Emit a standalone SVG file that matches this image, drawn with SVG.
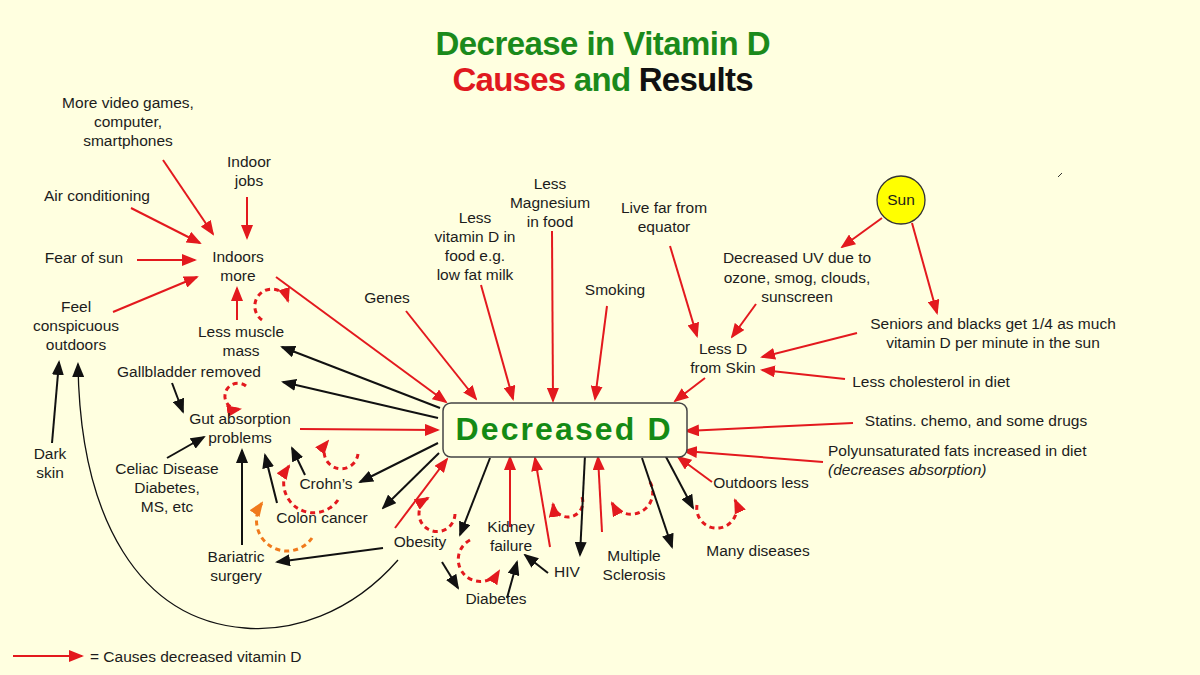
<svg xmlns="http://www.w3.org/2000/svg" width="1200" height="675" viewBox="0 0 1200 675">
<style>
text{font-family:"Liberation Sans",Arial,sans-serif;font-size:15.5px;fill:#1c1c1c}
.c{text-anchor:middle}
.r{fill:none;stroke:#e3191e;stroke-width:2}
.k{fill:none;stroke:#111;stroke-width:2}
.rd{fill:none;stroke:#e3191e;stroke-width:3;stroke-dasharray:5 4}
.od{fill:none;stroke:#f07a1c;stroke-width:3;stroke-dasharray:5 4}
.ttl{font-size:33px;font-weight:bold}
</style>
<defs>
<marker id="ar" viewBox="0 0 15 12" refX="13" refY="6" markerWidth="15" markerHeight="12" markerUnits="userSpaceOnUse" orient="auto"><path d="M0,0 L15,6 L0,12 z" fill="#e3191e"/></marker>
<marker id="ak" viewBox="0 0 15 12" refX="13" refY="6" markerWidth="15" markerHeight="12" markerUnits="userSpaceOnUse" orient="auto"><path d="M0,0 L15,6 L0,12 z" fill="#111"/></marker>
<marker id="ao" viewBox="0 0 15 12" refX="13" refY="6" markerWidth="15" markerHeight="12" markerUnits="userSpaceOnUse" orient="auto"><path d="M0,0 L15,6 L0,12 z" fill="#f07a1c"/></marker>
</defs>
<rect width="1200" height="675" fill="#ffffe0"/>

<g id="title">
<text class="c ttl" x="603" y="55" style="fill:#1b8a1b" textLength="335">Decrease in Vitamin D</text>
<text class="c ttl" x="603" y="91" textLength="301"><tspan style="fill:#e0191f">Causes</tspan><tspan style="fill:#1b8a1b"> and </tspan><tspan style="fill:#111">Results</tspan></text>
</g>

<g id="connectors">
<line class="r" x1="163" y1="160" x2="213" y2="234" marker-end="url(#ar)"/>
<line class="r" x1="247" y1="197" x2="247" y2="238" marker-end="url(#ar)"/>
<line class="r" x1="131" y1="208" x2="200" y2="243" marker-end="url(#ar)"/>
<line class="r" x1="137" y1="260" x2="195" y2="260" marker-end="url(#ar)"/>
<line class="r" x1="113" y1="312" x2="197" y2="277" marker-end="url(#ar)"/>
<line class="r" x1="237" y1="320" x2="237" y2="288" marker-end="url(#ar)"/>
<line class="r" x1="276" y1="277" x2="446" y2="402" marker-end="url(#ar)"/>
<line class="r" x1="406" y1="311" x2="476" y2="399" marker-end="url(#ar)"/>
<line class="r" x1="481" y1="285" x2="513" y2="399" marker-end="url(#ar)"/>
<line class="r" x1="552" y1="231" x2="553" y2="401" marker-end="url(#ar)"/>
<line class="r" x1="607" y1="306" x2="595" y2="399" marker-end="url(#ar)"/>
<line class="r" x1="670" y1="246" x2="697" y2="336" marker-end="url(#ar)"/>
<line class="r" x1="705" y1="378" x2="675" y2="401" marker-end="url(#ar)"/>
<line class="r" x1="882" y1="218" x2="842" y2="247" marker-end="url(#ar)"/>
<line class="r" x1="912" y1="223" x2="937" y2="313" marker-end="url(#ar)"/>
<line class="r" x1="756" y1="304" x2="732" y2="337" marker-end="url(#ar)"/>
<line class="r" x1="857" y1="333" x2="762" y2="357" marker-end="url(#ar)"/>
<line class="r" x1="845" y1="379" x2="762" y2="370" marker-end="url(#ar)"/>
<line class="r" x1="853" y1="423" x2="686" y2="431" marker-end="url(#ar)"/>
<line class="r" x1="823" y1="462" x2="684" y2="451" marker-end="url(#ar)"/>
<line class="r" x1="712" y1="482" x2="678" y2="457" marker-end="url(#ar)"/>
<line class="r" x1="300" y1="429" x2="438" y2="430" marker-end="url(#ar)"/>
<line class="r" x1="395" y1="528" x2="447" y2="459" marker-end="url(#ar)"/>
<line class="r" x1="510" y1="527" x2="510" y2="457" marker-end="url(#ar)"/>
<line class="r" x1="550" y1="547" x2="535" y2="458" marker-end="url(#ar)"/>
<line class="r" x1="602" y1="532" x2="598" y2="457" marker-end="url(#ar)"/>

<path class="rd" d="M262,320 A17,17 0 1 1 288,301" marker-end="url(#ar)"/>
<path class="rd" d="M246,386 A13,13 0 1 0 240,409" marker-end="url(#ar)"/>
<path class="rd" d="M358,454 A17,17 0 1 1 328,441" marker-end="url(#ar)"/>
<path class="rd" d="M338,500 A29,29 0 1 1 289,466" marker-end="url(#ar)"/>
<path class="od" d="M312,538 A28,28 0 1 1 262,503" marker-end="url(#ao)"/>
<path class="rd" d="M455,514 A18,18 0 1 1 428,498" marker-end="url(#ar)"/>
<path class="rd" d="M470,540 A22,22 0 1 0 499,571" marker-end="url(#ar)"/>
<path class="rd" d="M582,497 A15,15 0 1 1 553,504" marker-end="url(#ar)"/>
<path class="rd" d="M650,482 A19,19 0 1 1 612,503" marker-end="url(#ar)"/>
<path class="rd" d="M697,505 A20,20 0 1 0 735,500" marker-end="url(#ar)"/>

<line class="k" x1="440" y1="408" x2="282" y2="347" marker-end="url(#ak)"/>
<line class="k" x1="438" y1="418" x2="283" y2="382" marker-end="url(#ak)"/>
<line class="k" x1="438" y1="443" x2="360" y2="482" marker-end="url(#ak)"/>
<line class="k" x1="439" y1="453" x2="383" y2="508" marker-end="url(#ak)"/>
<line class="k" x1="172" y1="383" x2="183" y2="412" marker-end="url(#ak)"/>
<line class="k" x1="167" y1="458" x2="204" y2="437" marker-end="url(#ak)"/>
<line class="k" x1="242" y1="545" x2="242" y2="450" marker-end="url(#ak)"/>
<line class="k" x1="277" y1="503" x2="265" y2="455" marker-end="url(#ak)"/>
<line class="k" x1="305" y1="475" x2="292" y2="448" marker-end="url(#ak)"/>
<line class="k" x1="383" y1="548" x2="277" y2="562" marker-end="url(#ak)"/>
<line class="k" x1="52" y1="443" x2="59" y2="362" marker-end="url(#ak)"/>
<path fill="none" stroke="#111" stroke-width="1.3" d="M398,560 C350,615 290,632 245,628 C140,620 80,520 78,364" marker-end="url(#ak)"/>
<line class="k" x1="490" y1="458" x2="460" y2="535" marker-end="url(#ak)"/>
<line class="k" x1="442" y1="562" x2="458" y2="588" marker-end="url(#ak)"/>
<line class="k" x1="507" y1="598" x2="517" y2="562" marker-end="url(#ak)"/>
<line class="k" x1="548" y1="573" x2="525" y2="555" marker-end="url(#ak)"/>
<line class="k" x1="585" y1="455" x2="580" y2="555" marker-end="url(#ak)"/>
<line class="k" x1="642" y1="458" x2="672" y2="547" marker-end="url(#ak)"/>
<line class="k" x1="665" y1="455" x2="693" y2="508" marker-end="url(#ak)"/>
<line x1="1058" y1="177" x2="1062" y2="173" stroke="#333" stroke-width="1"/>
</g>

<g id="decreased-d">
<rect x="443" y="403" width="244" height="54" rx="8" fill="#ffffe0" stroke="#444" stroke-width="1.5"/>
<text class="c" x="563" y="440" style="font-size:32px;font-weight:bold;fill:#148a14" textLength="215">Decreased D</text>
</g>

<g id="sun">
<circle cx="901" cy="200" r="24" fill="#ffff00" stroke="#333" stroke-width="1.3"/>
<text class="c" x="901" y="205">Sun</text>
</g>

<g id="video-games"><text class="c" x="128" y="108">More video games,</text><text class="c" x="128" y="127">computer,</text><text class="c" x="128" y="146">smartphones</text></g>
<g id="indoor-jobs"><text class="c" x="249" y="167">Indoor</text><text class="c" x="249" y="186">jobs</text></g>
<g id="air-conditioning"><text class="c" x="97" y="201">Air conditioning</text></g>
<g id="fear-of-sun"><text class="c" x="84" y="263">Fear of sun</text></g>
<g id="indoors-more"><text class="c" x="238" y="262">Indoors</text><text class="c" x="238" y="281">more</text></g>
<g id="feel-conspicuous"><text class="c" x="76" y="312">Feel</text><text class="c" x="76" y="331">conspicuous</text><text class="c" x="76" y="350">outdoors</text></g>
<g id="less-muscle"><text class="c" x="241" y="337">Less muscle</text><text class="c" x="241" y="356">mass</text></g>
<g id="gallbladder"><text class="c" x="189" y="377">Gallbladder removed</text></g>
<g id="gut-absorption"><text class="c" x="240" y="424">Gut absorption</text><text class="c" x="240" y="443">problems</text></g>
<g id="dark-skin"><text class="c" x="50" y="459">Dark</text><text class="c" x="50" y="478">skin</text></g>
<g id="celiac"><text class="c" x="167" y="474">Celiac Disease</text><text class="c" x="167" y="493">Diabetes,</text><text class="c" x="167" y="512">MS, etc</text></g>
<g id="crohns"><text class="c" x="326" y="489">Crohn’s</text></g>
<g id="colon-cancer"><text class="c" x="322" y="523">Colon cancer</text></g>
<g id="obesity"><text class="c" x="420" y="547">Obesity</text></g>
<g id="bariatric"><text class="c" x="236" y="562">Bariatric</text><text class="c" x="236" y="581">surgery</text></g>
<g id="kidney"><text class="c" x="511" y="532">Kidney</text><text class="c" x="511" y="551">failure</text></g>
<g id="diabetes"><text class="c" x="496" y="604">Diabetes</text></g>
<g id="hiv"><text class="c" x="567" y="577">HIV</text></g>
<g id="ms"><text class="c" x="634" y="561">Multiple</text><text class="c" x="634" y="580">Sclerosis</text></g>
<g id="many-diseases"><text class="c" x="758" y="556">Many diseases</text></g>
<g id="outdoors-less"><text class="c" x="761" y="488">Outdoors less</text></g>
<g id="genes"><text class="c" x="387" y="303">Genes</text></g>
<g id="less-vitd-food"><text class="c" x="475" y="223">Less</text><text class="c" x="475" y="242">vitamin D in</text><text class="c" x="475" y="261">food e.g.</text><text class="c" x="475" y="280">low fat milk</text></g>
<g id="magnesium"><text class="c" x="550" y="189">Less</text><text class="c" x="550" y="208">Magnesium</text><text class="c" x="550" y="227">in food</text></g>
<g id="smoking"><text class="c" x="615" y="295">Smoking</text></g>
<g id="equator"><text class="c" x="664" y="213">Live far from</text><text class="c" x="664" y="232">equator</text></g>
<g id="decreased-uv"><text class="c" x="797" y="263">Decreased UV due to</text><text class="c" x="797" y="283">ozone, smog, clouds,</text><text class="c" x="797" y="302">sunscreen</text></g>
<g id="seniors"><text class="c" x="993" y="329">Seniors and blacks get 1/4 as much</text><text class="c" x="993" y="348">vitamin D per minute in the sun</text></g>
<g id="less-d-skin"><text class="c" x="723" y="354">Less D</text><text class="c" x="723" y="373">from Skin</text></g>
<g id="cholesterol"><text class="c" x="931" y="387">Less cholesterol in diet</text></g>
<g id="statins"><text class="c" x="976" y="426">Statins. chemo, and some drugs</text></g>
<g id="polyunsaturated"><text x="828" y="456">Polyunsaturated fats increased in diet</text><text x="828" y="475" font-style="italic">(decreases absorption)</text></g>

<g id="legend">
<line class="r" x1="13" y1="656" x2="82" y2="656" marker-end="url(#ar)"/>
<text x="90" y="662">= Causes decreased vitamin D</text>
</g>
</svg>
